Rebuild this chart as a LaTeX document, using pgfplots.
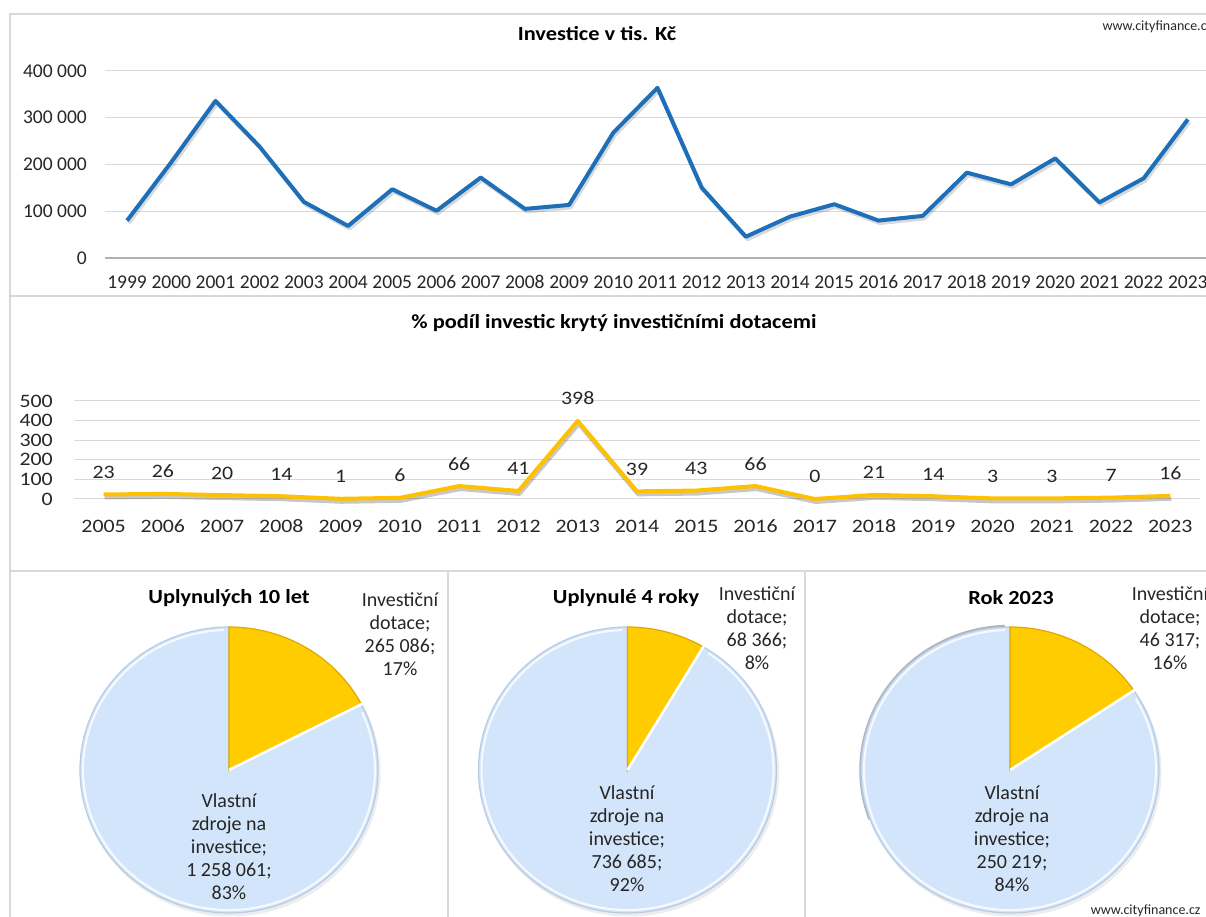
\documentclass[border=0pt]{standalone}
\usepackage{fontspec}
\setmainfont{Carlito}[Numbers=Lining]
\newfontfamily\wide[FakeStretch=1.15, Numbers=Lining]{Carlito}
\newfontfamily\titlefont[FakeStretch=1.12]{Carlito}
\usepackage{pgfplots}
\pgfplotsset{compat=1.18}
\pgfplotsset{/pgf/number format/assume math mode=true}

\definecolor{lineblue}{HTML}{1D6FBA}
\definecolor{linegold}{HTML}{FFC000}
\definecolor{gridgray}{HTML}{D9D9D9}
\definecolor{framegray}{HTML}{D9D9D9}
\definecolor{pieblue}{HTML}{D3E5FA}
\definecolor{blueedge}{HTML}{B7CBE3}
\definecolor{pieyellow}{HTML}{FFCC00}
\definecolor{goldedge}{HTML}{E0A800}
\definecolor{txt}{HTML}{262626}

% investice v tis. Kc
\pgfplotstableread{
year value
1999 80000
2000 205000
2001 336000
2002 238000
2003 120000
2004 68500
2005 147000
2006 101000
2007 172000
2008 105000
2009 113500
2010 268000
2011 364000
2012 150500
2013 45500
2014 88500
2015 115000
2016 80000
2017 90000
2018 182500
2019 157500
2020 213000
2021 119000
2022 170500
2023 296500
}\investice

% % podil investic kryty dotacemi
\pgfplotstableread{
year value
2005 23
2006 26
2007 20
2008 14
2009 1
2010 6
2011 66
2012 41
2013 398
2014 39
2015 43
2016 66
2017 0
2018 21
2019 14
2020 3
2021 3
2022 7
2023 16
}\podil

% one pie: #1 centre x, #2 dotace, #3 vlastni zdroje, #4 extra drawing
\newcommand\pie[4]{%
  \edef\pieangle{\fpeval{90-360*#2/(#2+#3)}}%
  \begin{axis}[at={(#1pt,147pt)}, anchor=center, scale only axis,
    x=1pt, y=1pt, xmin=-160, xmax=160, ymin=-160, ymax=160,
    hide axis, clip=false]
    \fill[black, opacity=0.07] (axis cs:1.5,-2.5) ellipse [x radius=150pt, y radius=144pt];
    #4
    \filldraw[fill=pieblue, draw=blueedge, line width=1.2pt]
      (axis cs:0,0) -- (axis cs:{149*cos(\pieangle)},{143*sin(\pieangle)})
      arc[start angle=\pieangle, end angle=-270, x radius=149pt, y radius=143pt] -- cycle;
    \draw[white, opacity=0.8, line width=2pt]
      (axis cs:{146*cos(\pieangle-3)},{140*sin(\pieangle-3)})
      arc[start angle=\pieangle-3, end angle=-268, x radius=146pt, y radius=140pt];
    \filldraw[fill=pieyellow, draw=goldedge, line width=1.2pt]
      (axis cs:0,0) -- (axis cs:0,143)
      arc[start angle=90, end angle=\pieangle, x radius=149pt, y radius=143pt] -- cycle;
    \draw[white, line width=2.5pt] (axis cs:0,0) -- (axis cs:{151*cos(\pieangle)},{145*sin(\pieangle)});
  \end{axis}%
}

\begin{document}
\begin{tikzpicture}[x=1pt, y=1pt]
\path[use as bounding box] (0,0) rectangle (1206,917);

% frames
\draw[framegray, line width=1.5pt] (10,0) -- (10,903) -- (1206,903);
\draw[framegray, line width=2pt] (10,621) -- (1206,621);
\draw[framegray, line width=2pt] (10,346) -- (1206,346);
\draw[framegray, line width=1.5pt] (448,0) -- (448,346);
\draw[framegray, line width=1.5pt] (805,0) -- (805,346);

% chart 1
\node[font=\titlefont\bfseries\fontsize{20}{20}\selectfont, text=black] at (597,883) {Investice v tis. Kč};
\node[font=\fontsize{14}{14}\selectfont, text=txt, anchor=west] at (1099,890) {www.cityfinance.cz};

\begin{axis}[
  at={(105pt,659pt)}, anchor=south west, scale only axis,
  width=1105pt, height=187pt,
  xmin=1998.5, xmax=2023.5, ymin=0, ymax=400000,
  xtick={1999,...,2023}, ytick={0,100000,200000,300000,400000},
  yticklabels={0,100 000,200 000,300 000,400 000},
  scaled ticks=false,
  xticklabel style={/pgf/number format/1000 sep={}, anchor=base, yshift=-31pt},
  yticklabel style={xshift=-18pt},
  tick label style={font=\fontsize{19.5}{20}\selectfont, text=txt, inner sep=0pt},
  axis line style={draw=none}, major tick length=0pt, tick style={draw=none},
  ymajorgrids, grid style={gridgray, line width=1pt},
  clip=false,
]
  \draw[gray!60, line width=1.2pt] (axis cs:1998.5,0) -- (axis cs:2023.5,0);
  \addplot[black, opacity=0.15, line width=4pt, line join=round, xshift=1.5pt, yshift=-2.5pt]
    table[x=year, y=value] {\investice};
  \addplot[lineblue, line width=4pt, line join=round]
    table[x=year, y=value] {\investice};
\end{axis}

% chart 2
\node[font=\titlefont\bfseries\fontsize{20}{20}\selectfont, text=black] at (614,594) {\% podíl investic krytý investičními dotacemi};

\begin{axis}[
  at={(74pt,418pt)}, anchor=south west, scale only axis,
  width=1126pt, height=98pt,
  xmin=2004.5, xmax=2023.5, ymin=0, ymax=500,
  xtick={2005,...,2023}, ytick={0,100,200,300,400,500},
  scaled ticks=false,
  xticklabel style={/pgf/number format/1000 sep={}, anchor=base, yshift=-34pt},
  yticklabel style={xshift=-21pt},
  tick label style={font=\wide\fontsize{19}{20}\selectfont, text=txt, inner sep=0pt},
  axis line style={draw=none}, major tick length=0pt, tick style={draw=none},
  ymajorgrids, grid style={gridgray, line width=1pt},
  clip=false,
]
  \addplot[black, opacity=0.22, line width=4pt, line join=round, xshift=1pt, yshift=-3pt]
    table[x=year, y=value] {\podil};
  \addplot[linegold, line width=4pt, line join=round,
    nodes near coords,
    every node near coord/.append style={font=\wide\fontsize{19}{20}\selectfont,
      text=txt, anchor=base, yshift=16pt, inner sep=0pt}]
    table[x=year, y=value] {\podil};
\end{axis}

% pies
\pie{229}{265086}{1258061}{}
\pie{627.5}{68366}{736685}{}
\pie{1010}{46317}{250219}{%
  \draw[black, opacity=0.3, line width=2.5pt]
    (axis cs:{149.5*cos(92)},{144*sin(92)}) arc[start angle=92, end angle=200, x radius=149.5pt, y radius=144pt];}

\begin{scope}[every node/.style={text=txt, align=center, font=\fontsize{20}{23}\selectfont}]
\node[font=\titlefont\bfseries\fontsize{20}{20}\selectfont, text=black] at (229,319) {Uplynulých 10 let};
\node[font=\titlefont\bfseries\fontsize{20}{20}\selectfont, text=black] at (626,319) {Uplynulé 4 roky};
\node[font=\titlefont\bfseries\fontsize{20}{20}\selectfont, text=black] at (1011,319) {Rok 2023};

\node at (400,282.5) {Investiční\\dotace;\\265 086;\\17\%};
\node at (757,288.5) {Investiční\\dotace;\\68 366;\\8\%};
\node at (1170,288.5) {Investiční\\dotace;\\46 317;\\16\%};

\node at (229,70.5) {Vlastní\\zdroje na\\investice;\\1 258 061;\\83\%};
\node at (627,78) {Vlastní\\zdroje na\\investice;\\736 685;\\92\%};
\node at (1012,78) {Vlastní\\zdroje na\\investice;\\250 219;\\84\%};
\end{scope}

\node[font=\fontsize{14}{14}\selectfont, text=txt, anchor=east] at (1204,6) {www.cityfinance.cz};
\end{tikzpicture}
\end{document}
